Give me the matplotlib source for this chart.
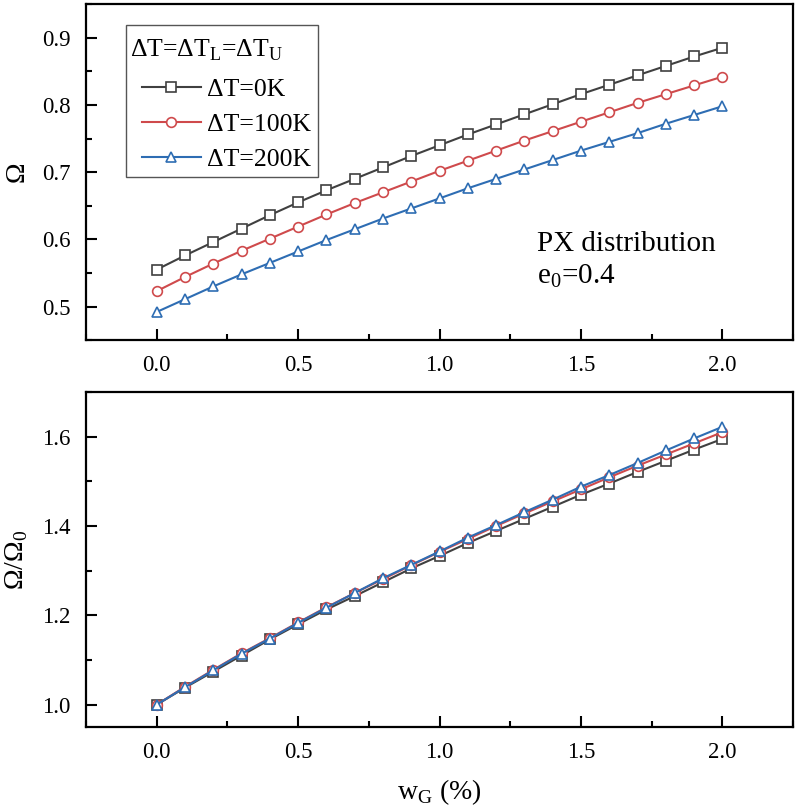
import matplotlib
matplotlib.use("Agg")
import matplotlib.pyplot as plt
from matplotlib.patches import Rectangle
from matplotlib.ticker import MultipleLocator, FormatStrFormatter

plt.rcParams['font.family'] = 'Liberation Serif'
plt.rcParams['mathtext.fontset'] = 'custom'
plt.rcParams['mathtext.rm'] = 'Liberation Serif'

wg = [0.0, 0.1, 0.2, 0.3, 0.4, 0.5, 0.6, 0.7, 0.8, 0.9, 1.0,
      1.1, 1.2, 1.3, 1.4, 1.5, 1.6, 1.7, 1.8, 1.9, 2.0]

omega_0k = [0.555, 0.576, 0.596, 0.616, 0.636, 0.655, 0.673, 0.690, 0.707, 0.724, 0.740,
            0.756, 0.771, 0.786, 0.801, 0.816, 0.830, 0.844, 0.858, 0.872, 0.885]
omega_100k = [0.523, 0.544, 0.564, 0.583, 0.601, 0.619, 0.637, 0.654, 0.670, 0.686, 0.702,
              0.717, 0.732, 0.747, 0.761, 0.775, 0.789, 0.803, 0.816, 0.829, 0.842]
omega_200k = [0.492, 0.511, 0.530, 0.548, 0.565, 0.582, 0.599, 0.615, 0.631, 0.646, 0.661,
              0.676, 0.690, 0.704, 0.718, 0.732, 0.745, 0.758, 0.772, 0.785, 0.798]

ratio_0k = [1.000, 1.038, 1.074, 1.110, 1.146, 1.180, 1.213, 1.243, 1.274, 1.305, 1.333,
            1.362, 1.389, 1.416, 1.443, 1.470, 1.495, 1.521, 1.546, 1.571, 1.595]
ratio_100k = [1.000, 1.040, 1.078, 1.115, 1.149, 1.184, 1.218, 1.250, 1.281, 1.312, 1.342,
              1.371, 1.400, 1.428, 1.455, 1.482, 1.509, 1.535, 1.560, 1.585, 1.610]
ratio_200k = [1.000, 1.039, 1.077, 1.114, 1.148, 1.183, 1.217, 1.250, 1.283, 1.313, 1.343,
              1.374, 1.402, 1.431, 1.459, 1.488, 1.514, 1.541, 1.569, 1.596, 1.622]

labels = ['ΔT=0K', 'ΔT=100K', 'ΔT=200K']
colors = ['#404040', '#cf4a4c', '#2e6db3']
markers = ['s', 'o', '^']


def style_axes(ax, ymajor, yminor):
    ax.set_xlim(-0.25, 2.25)
    ax.xaxis.set_major_locator(MultipleLocator(0.5))
    ax.xaxis.set_minor_locator(MultipleLocator(0.25))
    ax.yaxis.set_major_locator(MultipleLocator(ymajor))
    ax.yaxis.set_minor_locator(MultipleLocator(yminor))
    ax.xaxis.set_major_formatter(FormatStrFormatter('%.1f'))
    ax.yaxis.set_major_formatter(FormatStrFormatter('%.1f'))
    ax.tick_params(which='both', direction='in', width=1.5, labelsize=16.5)
    ax.tick_params(which='major', length=8, pad=11)
    ax.tick_params(which='minor', length=4)
    for s in ax.spines.values():
        s.set_linewidth(1.6)


fig = plt.figure(figsize=(8, 8.1), dpi=100)
ax1 = fig.add_axes([0.1075, 0.580, 0.884, 0.415])
ax2 = fig.add_axes([0.1075, 0.1025, 0.884, 0.4136])

for ys, lab, c, m in zip([omega_0k, omega_100k, omega_200k], labels, colors, markers):
    ax1.plot(wg, ys, color=c, marker=m, ms=7, mfc='white', mec=c, mew=1.2,
             lw=1.5, label=lab)

for ys, c, m in zip([ratio_0k, ratio_100k, ratio_200k], colors, markers):
    ax2.plot(wg, ys, color=c, marker=m, ms=7, mfc='white', mec=c, mew=1.2, lw=1.5)

style_axes(ax1, 0.1, 0.05)
ax1.set_ylim(0.45, 0.95)
style_axes(ax2, 0.2, 0.1)
ax2.set_ylim(0.95, 1.7)

ax1.set_ylabel('Ω', fontsize=20, labelpad=9)
ax2.set_ylabel('Ω/Ω$_\\mathregular{0}$', fontsize=20, labelpad=9)
ax2.set_xlabel('w$_\\mathregular{G}$ (%)', fontsize=20, labelpad=10)

# legend: framed box with a flush-left title and indented entries
ax1.add_patch(Rectangle((0.0566, 0.485), 0.2715, 0.4525, transform=ax1.transAxes,
                        fc='white', ec='#555555', lw=1.0, zorder=4))
ax1.text(0.062, 0.863, 'ΔT=ΔT$_\\mathregular{L}$=ΔT$_\\mathregular{U}$',
         transform=ax1.transAxes, fontsize=18.5, va='center', zorder=5)
leg = ax1.legend(loc='upper left', bbox_to_anchor=(0.079, 0.781), fontsize=18.5,
                 frameon=False, handlelength=2.3, borderpad=0, labelspacing=0.47,
                 handletextpad=0.25, borderaxespad=0)
leg.set_zorder(6)

ax1.text(0.638, 0.265, 'PX distribution', transform=ax1.transAxes, fontsize=21)
ax1.text(0.638, 0.17, 'e$_\\mathregular{0}$=0.4', transform=ax1.transAxes, fontsize=21)

fig.savefig('out.png', dpi=100)
